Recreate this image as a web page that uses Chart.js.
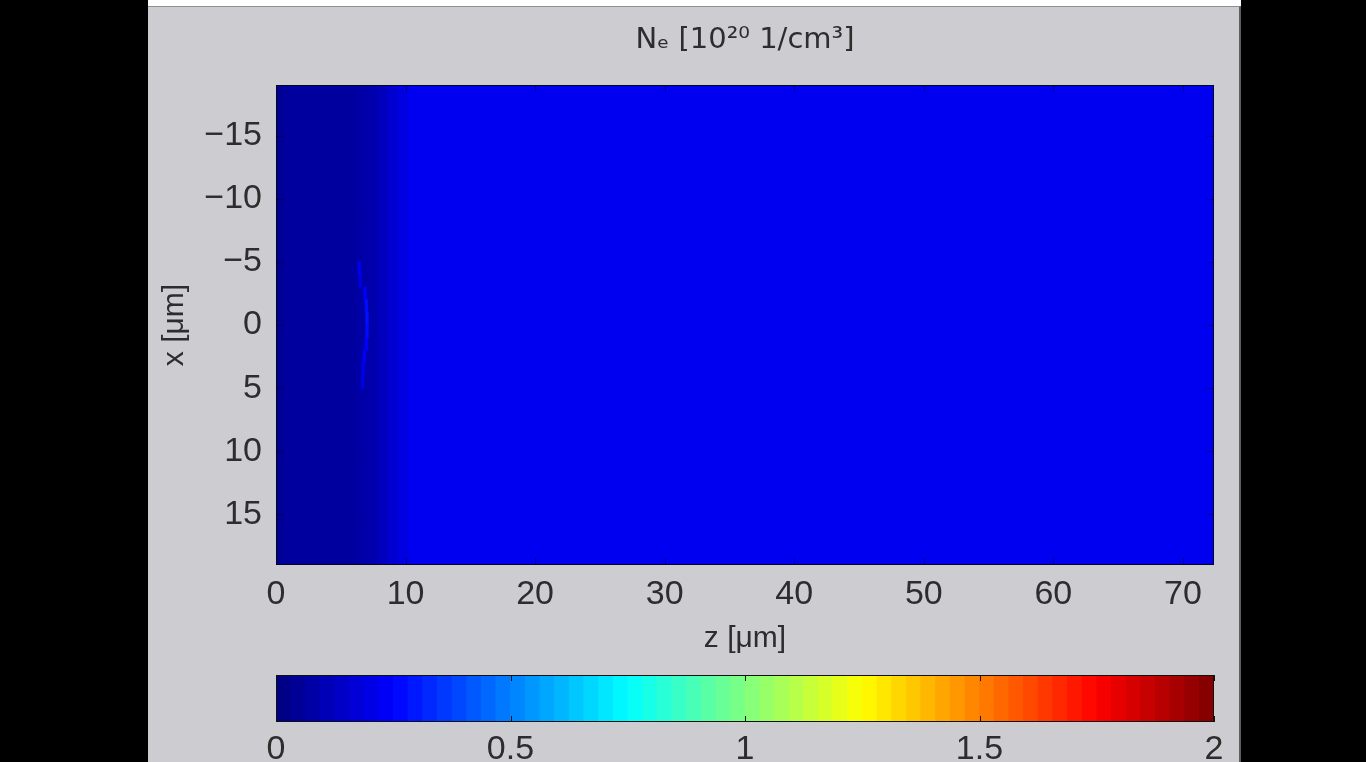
<!DOCTYPE html>
<html>
<head>
<meta charset="utf-8">
<title>Ne density map</title>
<script src="https://cdn.jsdelivr.net/npm/chart.js@4.4.1/dist/chart.umd.min.js"></script>
<style>
  html, body { margin: 0; padding: 0; background: #000; width: 1366px; height: 762px; overflow: hidden; }
  #strip { position: absolute; left: 148px; top: 0; width: 1093px; height: 6px; background: #fff; }
  #panel { position: absolute; left: 148px; top: 6px; width: 1091px; height: 756px; background: #cdccd0;
           border-top: 1px solid #8e8e8e; border-right: 2px solid #5e5e5e; }
  canvas { position: absolute; }
  #map { left: 148px; top: 7px; }
  #bar { left: 148px; top: 650px; }
</style>
</head>
<body>
<div id="strip"></div>
<div id="panel"></div>
<canvas id="map" width="1093" height="653"></canvas>
<canvas id="bar" width="1093" height="112"></canvas>
<script>
// axis ranges and tick labels
const zRange = [0, 72.4];
const xRange = [-19, 19];
const cbRange = [0, 2];
const zTicks = [0, 10, 20, 30, 40, 50, 60, 70];
const xTicks = [-15, -10, -5, 0, 5, 10, 15];
const cbTicks = [0, 0.5, 1, 1.5, 2];

// density profile along z (same for every x row), 10^20 1/cm^3
const zEdges = [0, 0.6, 6.2, 7.0, 7.8, 8.6, 9.4, 10.2, 72.4];
const zLevels = [0.04, 0.06, 0.075, 0.09, 0.12, 0.16, 0.19, 0.22];
const rowStep = 1;

// faint vertical streak near z = 7
const streakRows = [-4.5, -3.5, -2.5, -1.5, -0.5, 0.5, 1.5, 2.5, 3.5, 4.5];
const streakZ = [6.3, 6.4, 6.75, 6.85, 6.9, 6.9, 6.85, 6.7, 6.6, 6.55];
const streakLevels = [0.24, 0.2, 0.24, 0.27, 0.28, 0.27, 0.25, 0.24, 0.22, 0.2];
const streakWidth = 0.25;

const cbSteps = 64;

const textColor = '#2d2d2d';
const fam = "'Liberation Sans', Arial, 'DejaVu Sans', sans-serif";

function jet(v) {
  const t = Math.min(Math.max((v - cbRange[0]) / (cbRange[1] - cbRange[0]), 0), 1);
  const c = k => Math.round(255 * Math.min(Math.max(1.5 - Math.abs(4 * t - k), 0), 1));
  return 'rgb(' + c(3) + ',' + c(2) + ',' + c(1) + ')';
}

const cells = [];
for (let x = xRange[0] + rowStep / 2; x < xRange[1]; x += rowStep) {
  zLevels.forEach((v, i) => cells.push({ x: [zEdges[i], zEdges[i + 1] + 0.08], y: x, v: v }));
}
streakRows.forEach((x, i) => {
  cells.push({ x: [streakZ[i], streakZ[i] + streakWidth], y: x, v: streakLevels[i] });
});

const cbCells = [];
for (let i = 0; i < cbSteps; i++) {
  const a = cbRange[0] + (cbRange[1] - cbRange[0]) * i / cbSteps;
  const b = cbRange[0] + (cbRange[1] - cbRange[0]) * (i + 1) / cbSteps;
  cbCells.push({ x: [a, b + 0.004], y: 'cb', v: (a + b) / 2 });
}

// box + inward tick marks, like the original figure
const innerTicks = {
  id: 'innerTicks',
  afterDatasetsDraw(chart, args, opts) {
    const { ctx, chartArea: a } = chart;
    ctx.save();
    ctx.lineWidth = 1;
    ctx.strokeStyle = opts.tickColor;
    ctx.beginPath();
    const xs = chart.scales.x;
    xs.ticks.forEach(t => {
      const p = Math.round(xs.getPixelForValue(t.value)) + 0.5;
      ctx.moveTo(p, a.top); ctx.lineTo(p, a.top + opts.len);
      ctx.moveTo(p, a.bottom); ctx.lineTo(p, a.bottom - opts.len);
    });
    if (opts.yTicks) {
      const ys = chart.scales.y;
      ys.ticks.forEach(t => {
        const p = Math.round(ys.getPixelForValue(t.value)) + 0.5;
        ctx.moveTo(a.left, p); ctx.lineTo(a.left + opts.len, p);
        ctx.moveTo(a.right, p); ctx.lineTo(a.right - opts.len, p);
      });
    }
    ctx.stroke();
    ctx.strokeStyle = opts.frameColor;
    ctx.strokeRect(a.left + 0.5, a.top + 0.5, a.width - 1, a.height - 1);
    ctx.restore();
  }
};

Chart.defaults.font.family = fam;
Chart.defaults.color = textColor;

new Chart(document.getElementById('map'), {
  type: 'bar',
  data: {
    datasets: [{
      data: cells,
      backgroundColor: cells.map(c => jet(c.v)),
      borderWidth: 0,
      barPercentage: 1.08,
      categoryPercentage: 1
    }]
  },
  plugins: [innerTicks],
  options: {
    indexAxis: 'y',
    responsive: false,
    animation: false,
    devicePixelRatio: 1,
    layout: { padding: { left: 0, right: 27, top: 0, bottom: 0 } },
    plugins: {
      legend: { display: false },
      tooltip: { enabled: false },
      title: { display: false },
      innerTicks: { len: 7, tickColor: 'rgba(0,0,0,0.4)', frameColor: '#050520', yTicks: true }
    },
    scales: {
      x: {
        type: 'linear',
        position: 'bottom',
        min: zRange[0],
        max: zRange[1],
        afterBuildTicks: s => { s.ticks = zTicks.map(v => ({ value: v })); },
        afterFit: s => { s.height = 95; },
        grid: { display: false, drawTicks: false },
        border: { display: false },
        ticks: { padding: 9, color: textColor, font: { size: 34 }, maxRotation: 0, autoSkip: false,
                 callback: v => String(v) },
        title: { display: true, text: 'z [μm]', color: textColor, font: { size: 30 }, padding: { top: 0, bottom: 3 } }
      },
      // top axis only carries the figure title, centred over the plot box
      top: {
        type: 'linear',
        position: 'top',
        min: zRange[0],
        max: zRange[1],
        afterFit: s => { s.height = 78; },
        grid: { display: false, drawTicks: false },
        border: { display: false },
        ticks: { display: false },
        title: {
          display: true,
          text: 'Nₑ [10²⁰ 1/cm³]',
          color: textColor,
          font: { size: 29, family: "'DejaVu Sans', sans-serif" },
          padding: { top: 15.6, bottom: 0 }
        }
      },
      y: {
        type: 'linear',
        position: 'left',
        reverse: true,
        offset: false,
        min: xRange[0],
        max: xRange[1],
        afterBuildTicks: s => { s.ticks = xTicks.map(v => ({ value: v })); },
        afterFit: s => { s.width = 128; },
        grid: { display: false, drawTicks: false },
        border: { display: false },
        ticks: { padding: 14, color: textColor, font: { size: 34 }, autoSkip: false,
                 callback: v => (v < 0 ? '\u2212' + Math.abs(v) : String(v)) },
        title: { display: true, text: 'x [μm]', color: textColor, font: { size: 30 }, padding: { top: 9, bottom: 0 } }
      }
    }
  }
});

new Chart(document.getElementById('bar'), {
  type: 'bar',
  data: {
    labels: ['cb'],
    datasets: [{
      data: cbCells,
      backgroundColor: cbCells.map(c => jet(c.v)),
      borderWidth: 0,
      barPercentage: 1,
      categoryPercentage: 1
    }]
  },
  plugins: [innerTicks],
  options: {
    indexAxis: 'y',
    responsive: false,
    animation: false,
    devicePixelRatio: 1,
    layout: { padding: { left: 128, right: 27, top: 25, bottom: 0 } },
    plugins: {
      legend: { display: false },
      tooltip: { enabled: false },
      innerTicks: { len: 6, tickColor: '#111', frameColor: '#111', yTicks: false }
    },
    scales: {
      x: {
        type: 'linear',
        position: 'bottom',
        min: cbRange[0],
        max: cbRange[1],
        afterBuildTicks: s => { s.ticks = cbTicks.map(v => ({ value: v })); },
        afterFit: s => { s.height = 40; },
        grid: { display: false, drawTicks: false },
        border: { display: false },
        ticks: { padding: 7, color: textColor, font: { size: 34 }, maxRotation: 0, autoSkip: false,
                 callback: v => String(v) }
      },
      y: { type: 'category', display: false }
    }
  }
});
</script>
</body>
</html>
